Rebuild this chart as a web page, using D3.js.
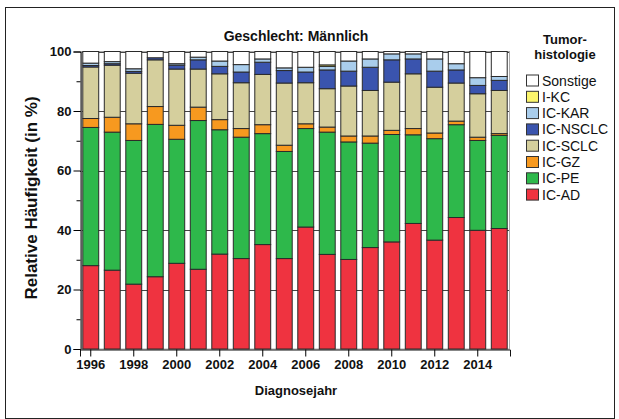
<!DOCTYPE html>
<html>
<head>
  <meta charset="utf-8">
  <title>Tumorhistologie Männlich</title>
  <script src="https://cdn.jsdelivr.net/npm/d3@7"></script>
</head>
<style>
  body { margin: 0; background: #fff; }
  svg text { font-family: "Liberation Sans", Arial, sans-serif; fill: #111; }
</style>
<body>
  <div id="chart"></div>
  <script>
    // Diagnosejahr
    var years = [1996, 1997, 1998, 1999, 2000, 2001, 2002, 2003, 2004, 2005,
                 2006, 2007, 2008, 2009, 2010, 2011, 2012, 2013, 2014, 2015];

    // Anteile in %, von unten nach oben gestapelt
    var icAD     = [28.0, 26.5, 21.8, 24.3, 28.8, 26.8, 31.9, 30.4, 35.1, 30.4, 41.0, 31.8, 30.1, 34.1, 36.0, 42.2, 36.6, 44.2, 39.9, 40.5];
    var icPE     = [46.4, 46.4, 48.3, 51.2, 41.7, 50.0, 41.8, 40.8, 37.3, 36.0, 33.1, 41.1, 39.5, 35.1, 36.1, 29.8, 34.1, 31.2, 30.2, 31.3];
    var icGZ     = [ 3.0,  5.0,  5.6,  6.0,  4.7,  4.5,  3.4,  2.9,  3.0,  2.1,  1.6,  1.7,  2.0,  2.4,  1.4,  2.1,  1.9,  1.2,  1.1,  0.6];
    var icSCLC   = [17.3, 17.5, 17.0, 15.7, 18.9, 12.8, 15.4, 15.4, 16.9, 20.9, 13.8, 12.9, 16.8, 15.3, 16.2, 18.4, 15.4, 12.8, 14.6, 14.5];
    var icNSCLC  = [ 0.5,  0.5,  0.6,  0.7,  1.3,  3.1,  2.5,  3.6,  4.1,  4.2,  3.6,  6.3,  5.0,  7.8,  7.5,  5.0,  5.4,  4.4,  2.8,  3.4];
    var icKAR    = [ 0.8,  0.7,  0.9,  0.0,  0.5,  0.9,  1.8,  2.5,  1.1,  0.9,  1.6,  1.2,  3.4,  2.8,  2.0,  1.7,  4.1,  2.1,  2.6,  1.3];
    var iKC      = [ 0.0,  0.0,  0.0,  0.0,  0.0,  0.0,  0.0,  0.0,  0.0,  0.0,  0.0,  0.5,  0.0,  0.0,  0.0,  0.0,  0.0,  0.0,  0.0,  0.0];
    var sonstige = [ 3.9,  3.4,  5.8,  2.1,  4.1,  1.9,  3.2,  4.4,  2.5,  5.5,  5.3,  4.5,  3.2,  2.5,  0.8,  0.8,  2.5,  4.1,  8.8,  8.4];

    var seriesNames = ['IC-AD', 'IC-PE', 'IC-GZ', 'IC-SCLC', 'IC-NSCLC', 'IC-KAR', 'I-KC', 'Sonstige'];
    var seriesValues = [icAD, icPE, icGZ, icSCLC, icNSCLC, icKAR, iKC, sonstige];
    var seriesColors = ['#ef3340', '#2eb84b', '#f7991f', '#d5cf9d', '#3a54ae', '#a9cdec', '#fbf56c', '#ffffff'];

    var yTicks = [0, 20, 40, 60, 80, 100];
    var yMinorTicks = [10, 30, 50, 70, 90];
    var xTickYears = [1996, 1998, 2000, 2002, 2004, 2006, 2008, 2010, 2012, 2014];

    var width = 619, height = 419;

    var rows = years.map(function (yr, i) {
      var row = { year: yr };
      seriesNames.forEach(function (name, k) { row[name] = seriesValues[k][i]; });
      return row;
    });

    var stacked = d3.stack()
      .keys(seriesNames)
      .offset(d3.stackOffsetExpand)(rows);

    var svg = d3.select('#chart').append('svg')
      .attr('width', width)
      .attr('height', height);

    // Rahmen
    svg.append('rect')
      .attr('x', 5.5).attr('y', 7.5)
      .attr('width', 609).attr('height', 411)
      .attr('fill', 'none')
      .attr('stroke', '#222');

    var x = d3.scaleBand()
      .domain(years)
      .range([80, 510])
      .paddingInner(0.26)
      .paddingOuter(0.13);

    var y = d3.scaleLinear()
      .domain([0, 100])
      .range([349, 51.5]);

    // Gitterlinien
    svg.append('g')
      .selectAll('line')
      .data(yTicks.slice(1))
      .join('line')
      .attr('x1', 80).attr('x2', 510)
      .attr('y1', function (d) { return Math.round(y(d)) + 0.5; })
      .attr('y2', function (d) { return Math.round(y(d)) + 0.5; })
      .attr('stroke', '#444');

    // Plotbereich-Rand
    svg.append('rect')
      .attr('x', 81.5).attr('y', 51.5)
      .attr('width', 428).attr('height', 297.5)
      .attr('fill', 'none')
      .attr('stroke', '#aaa');

    svg.append('g')
      .selectAll('g')
      .data(stacked)
      .join('g')
      .attr('fill', function (d, i) { return seriesColors[i]; })
      .selectAll('rect')
      .data(function (d) { return d; })
      .join('rect')
      .attr('x', function (d) { return x(d.data.year); })
      .attr('width', x.bandwidth())
      .attr('y', function (d) { return y(d[1] * 100); })
      .attr('height', function (d) { return y(d[0] * 100) - y(d[1] * 100); })
      .attr('stroke', '#2a2a2a')
      .attr('stroke-width', 1);

    // y-Achse
    var yAxis = svg.append('g')
      .attr('transform', 'translate(80.5,0)')
      .call(d3.axisLeft(y).tickValues(yTicks).tickSize(7).tickPadding(2).tickFormat(d3.format('d')));
    yAxis.selectAll('text')
      .style('font-size', '13px')
      .style('font-weight', 'bold');
    yAxis.selectAll('.domain').attr('stroke', '#111');

    svg.append('g')
      .attr('transform', 'translate(80.5,0)')
      .call(d3.axisLeft(y).tickValues(yMinorTicks).tickSize(4).tickFormat(''))
      .select('.domain').remove();

    // x-Achse
    var xAxis = svg.append('g')
      .attr('transform', 'translate(0,349.5)')
      .call(d3.axisBottom(x).tickValues(xTickYears).tickSize(7).tickPadding(3));
    xAxis.selectAll('text')
      .style('font-size', '13px')
      .style('font-weight', 'bold');
    xAxis.select('.domain').attr('stroke', '#111');

    // Titel und Achsenbeschriftungen
    svg.append('text')
      .attr('x', 296).attr('y', 41)
      .attr('text-anchor', 'middle')
      .style('font-size', '14px')
      .style('font-weight', 'bold')
      .text('Geschlecht: Männlich');

    svg.append('text')
      .attr('x', 296).attr('y', 395)
      .attr('text-anchor', 'middle')
      .style('font-size', '13px')
      .style('font-weight', 'bold')
      .text('Diagnosejahr');

    svg.append('text')
      .attr('transform', 'translate(37,198) rotate(-90)')
      .attr('text-anchor', 'middle')
      .style('font-size', '17px')
      .style('font-weight', 'bold')
      .text('Relative Häufigkeit (in %)');

    // Legende
    var legend = svg.append('g');
    legend.append('text')
      .attr('x', 565).attr('y', 44)
      .attr('text-anchor', 'middle')
      .style('font-size', '13px')
      .style('font-weight', 'bold')
      .text('Tumor-');
    legend.append('text')
      .attr('x', 565).attr('y', 59)
      .attr('text-anchor', 'middle')
      .style('font-size', '13px')
      .style('font-weight', 'bold')
      .text('histologie');

    var legendOrder = seriesNames.slice().reverse();
    var legendColors = seriesColors.slice().reverse();
    var item = legend.selectAll('g.item')
      .data(legendOrder)
      .join('g')
      .attr('class', 'item')
      .attr('transform', function (d, i) { return 'translate(526,' + (80.5 + i * 16.3) + ')'; });
    item.append('rect')
      .attr('x', 0.5).attr('y', -5.5)
      .attr('width', 12).attr('height', 11)
      .attr('fill', function (d, i) { return legendColors[i]; })
      .attr('stroke', '#333');
    item.append('text')
      .attr('x', 16).attr('y', 0)
      .attr('dy', '0.36em')
      .style('font-size', '14px')
      .text(function (d) { return d; });
  </script>
</body>
</html>
